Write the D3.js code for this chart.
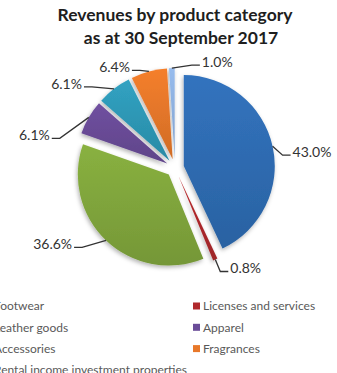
<!DOCTYPE html>
<html>
<head>
<meta charset="utf-8">
<script src="https://cdn.jsdelivr.net/npm/d3@7"></script>
<style>
  body { margin: 0; background: #fff; }
  svg { display: block; font-family: Lato, "Open Sans", sans-serif; }
</style>
</head>
<body>
<div id="chart"></div>
<script>
// chart values
const categories = ['Footwear', 'Licenses and services', 'Leather goods', 'Apparel',
    'Accessories', 'Fragrances', 'Rental income investment properties'];
const shares = [43.0, 0.8, 36.6, 6.1, 6.1, 6.4, 1.0];
const colors = ['#2f6db4', '#b0292c', '#82a83d', '#6a4c98', '#2e9ab8', '#e8782a', '#8fb2e2'];

const width = 337;
const height = 373;
const cx = 175;
const cy = 168;
const radius = 91;
const explode = 9;

// hand-placed label offsets from the slice edge, like the manual layout in the original
const labelPos = [
    { dx: 20, dy: 6, anchor: 'start' },
    { dx: 15, dy: 9, anchor: 'start' },
    { dx: -34, dy: 4, anchor: 'end' },
    { dx: -39, dy: 18, anchor: 'end' },
    { dx: -32, dy: -5, anchor: 'end' },
    { dx: -19, dy: -4, anchor: 'end' },
    { dx: 30, dy: -6, anchor: 'start' }
];

const data = categories.map((name, i) => ({ name, value: shares[i], color: colors[i] }));

const svg = d3.select('#chart').append('svg')
    .attr('width', width)
    .attr('height', height);

const defs = svg.append('defs');

const shadow = defs.append('filter')
    .attr('id', 'shadow')
    .attr('x', '-20%').attr('y', '-20%')
    .attr('width', '140%').attr('height', '140%');
shadow.append('feDropShadow')
    .attr('dx', -1).attr('dy', 2)
    .attr('stdDeviation', 2)
    .attr('flood-color', '#000')
    .attr('flood-opacity', 0.3);

data.forEach((d, i) => {
    const grad = defs.append('linearGradient')
        .attr('id', `grad${i}`)
        .attr('x1', 0).attr('y1', 0).attr('x2', 0).attr('y2', 1);
    grad.append('stop').attr('offset', '0%').attr('stop-color', d3.color(d.color).brighter(0.15));
    grad.append('stop').attr('offset', '100%').attr('stop-color', d3.color(d.color).darker(0.3));
});

// title
svg.append('text')
    .attr('x', 175).attr('y', 21)
    .attr('text-anchor', 'middle')
    .style('font-size', '17.5px')
    .style('font-weight', 'bold')
    .style('fill', '#1e1e1e')
    .text('Revenues by product category');
svg.append('text')
    .attr('x', 181).attr('y', 44)
    .attr('text-anchor', 'middle')
    .style('font-size', '17.5px')
    .style('font-weight', 'bold')
    .style('fill', '#1e1e1e')
    .text('as at 30 September 2017');

const pie = d3.pie()
    .sort(null)
    .value(d => d.value);

const arc = d3.arc()
    .innerRadius(0)
    .outerRadius(radius);

const dir = a => [Math.sin(a), -Math.cos(a)];

const arcs = pie(data).map((d) => {
    const mid = (d.startAngle + d.endAngle) / 2;
    const [ux, uy] = dir(mid);
    const ox = cx + explode * ux;
    const oy = cy + explode * uy;
    return Object.assign(d, { mid, ox, oy, px: ox + radius * ux, py: oy + radius * uy });
});

const pieG = svg.append('g').attr('filter', 'url(#shadow)');

pieG.selectAll('path.slice')
    .data(arcs)
    .enter().append('path')
    .attr('class', 'slice')
    .attr('transform', d => `translate(${d.ox},${d.oy})`)
    .attr('d', arc)
    .style('fill', (d, i) => `url(#grad${i})`);

// labels with leader lines
const labels = svg.append('g');
arcs.forEach((d, i) => {
    const p = labelPos[i];
    const lx = d.px + p.dx;
    const ly = d.py + p.dy;
    const side = p.anchor === 'start' ? -1 : 1;
    const endX = lx + side * 2;
    const endY = ly + 3;
    const elbowX = endX + side * 8;
    labels.append('path')
        .attr('d', `M${d.px},${d.py} Q${elbowX},${endY} ${elbowX},${endY} L${endX},${endY}`)
        .style('fill', 'none')
        .style('stroke', '#333')
        .style('stroke-width', 1.3);
    labels.append('text')
        .attr('x', lx)
        .attr('y', ly)
        .attr('dy', '0.35em')
        .attr('text-anchor', p.anchor)
        .style('font-size', '14px')
        .style('fill', '#333')
        .text(`${d.value.toFixed(1)}%`);
});

// legend, two columns, left column runs off the edge like the original crop
const legend = svg.append('g').attr('transform', 'translate(-16,306)');
const legendItem = legend.selectAll('.legend-item')
    .data(data)
    .enter().append('g')
    .attr('class', 'legend-item')
    .attr('transform', (d, i) => `translate(${(i % 2) * 209},${Math.floor(i / 2) * 21.3})`);

legendItem.append('rect')
    .attr('x', 0).attr('y', -3.5)
    .attr('width', 7).attr('height', 7)
    .style('fill', d => d.color);

legendItem.append('text')
    .attr('x', 10)
    .attr('dy', '0.35em')
    .style('font-size', '12px')
    .style('fill', '#595959')
    .text(d => d.name);
</script>
</body>
</html>
